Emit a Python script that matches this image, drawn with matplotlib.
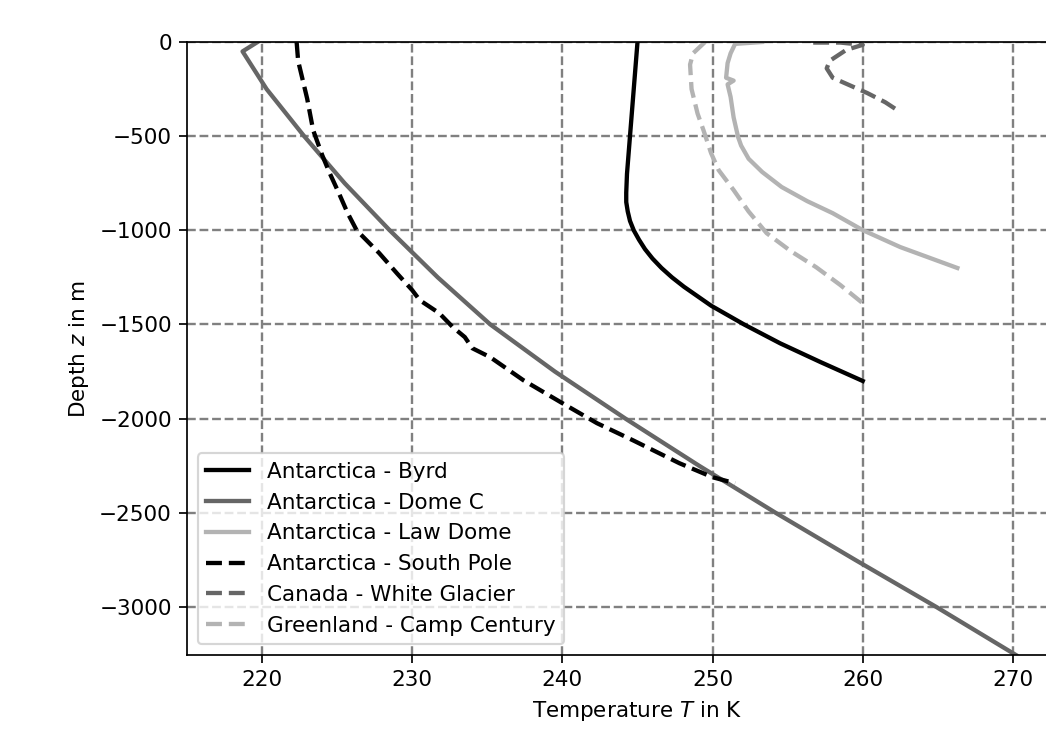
import matplotlib
matplotlib.use("Agg")
import matplotlib.pyplot as plt

# ---- data ----
byrd_T = [245.0, 244.9, 244.8, 244.7, 244.6, 244.5, 244.4, 244.3, 244.25, 244.25,
          244.35, 244.5, 244.75, 245.1, 245.5, 246.0, 246.6, 247.3, 248.1, 249.9,
          252.1, 254.5, 257.2, 260.0]
byrd_z = [0, -100, -200, -300, -400, -500, -600, -700, -800, -850,
          -900, -950, -1000, -1050, -1100, -1150, -1200, -1250, -1300, -1400,
          -1500, -1600, -1700, -1800]

domec_T = [219.7, 218.7, 220.3, 222.8, 225.5, 228.5, 231.7, 235.2, 239.5, 244.2,
           249.1, 254.2, 259.5, 264.9, 270.2]
domec_z = [0, -50, -250, -500, -750, -1000, -1250, -1500, -1750, -2000,
           -2250, -2500, -2750, -3000, -3255]

lawdome_T = [253.3, 251.5, 251.2, 251.0, 250.9, 251.4, 251.0, 251.2, 251.4, 251.7,
             251.9, 252.4, 253.3, 254.6, 256.3, 258.0, 260.0, 262.5, 266.3]
lawdome_z = [0, -10, -60, -112, -190, -205, -225, -292, -400, -505,
             -550, -620, -690, -770, -845, -909, -999, -1089, -1200]

southpole_T = [222.3, 222.4, 222.7, 223.0, 223.4, 224.0, 224.5, 225.1, 225.7, 226.3,
               227.8, 229.0, 230.0, 230.5, 231.8, 232.7, 233.5, 234.0, 235.2, 237.4,
               240.0, 242.3, 244.7, 247.8, 250.0, 251.5]
southpole_z = [0, -100, -200, -300, -468, -600, -696, -800, -909, -1000,
               -1121, -1230, -1318, -1371, -1440, -1514, -1567, -1626, -1674, -1796,
               -1918, -2024, -2115, -2237, -2311, -2343]

white_T = [256.7, 258.5, 260.0, 258.9, 257.8, 257.6, 258.0, 260.3, 261.5, 262.5]
white_z = [-3, -3, -15, -42, -100, -140, -190, -271, -320, -372]

camp_T = [249.5, 248.7, 248.5, 248.6, 249.0, 249.4, 249.9, 250.4, 251.4, 252.4,
          253.6, 255.2, 256.9, 258.5, 260.0]
camp_z = [0, -60, -120, -250, -380, -470, -590, -680, -786, -900,
          -1015, -1110, -1196, -1290, -1387]

labels = ["Antarctica - Byrd", "Antarctica - Dome C", "Antarctica - Law Dome",
          "Antarctica - South Pole", "Canada - White Glacier", "Greenland - Camp Century"]
yticks = [0, -500, -1000, -1500, -2000, -2500, -3000]
xticks = [220, 230, 240, 250, 260, 270]

# ---- figure ----
DPI = 155
fig = plt.figure(figsize=(1046 / DPI, 734 / DPI), dpi=DPI)
ax = fig.add_axes([187 / 1046, (734 - 655) / 734, (1088 - 187) / 1046, (655 - 42) / 734])

lw = 2.0
ax.plot(byrd_T, byrd_z, color="black", lw=lw, ls="-", label=labels[0])
ax.plot(domec_T, domec_z, color="#666666", lw=lw, ls="-", label=labels[1])
ax.plot(lawdome_T, lawdome_z, color="#b3b3b3", lw=lw, ls="-", label=labels[2])
ax.plot(southpole_T, southpole_z, color="black", lw=lw, ls="--", label=labels[3])
ax.plot(white_T, white_z, color="#666666", lw=lw, ls="--", label=labels[4])
ax.plot(camp_T, camp_z, color="#b3b3b3", lw=lw, ls="--", label=labels[5])

ax.set_xlim(215, 275)
ax.set_ylim(-3255, 0)
ax.set_xticks(xticks)
ax.set_yticks(yticks)
ax.grid(True, color="grey", ls="--", lw=1.1)
ax.set_axisbelow(True)
ax.set_xlabel("Temperature $T$ in K")
ax.set_ylabel("Depth $z$ in m")
ax.spines["right"].set_visible(False)
ax.legend(loc="lower left")

fig.savefig("out.png", dpi=DPI)
